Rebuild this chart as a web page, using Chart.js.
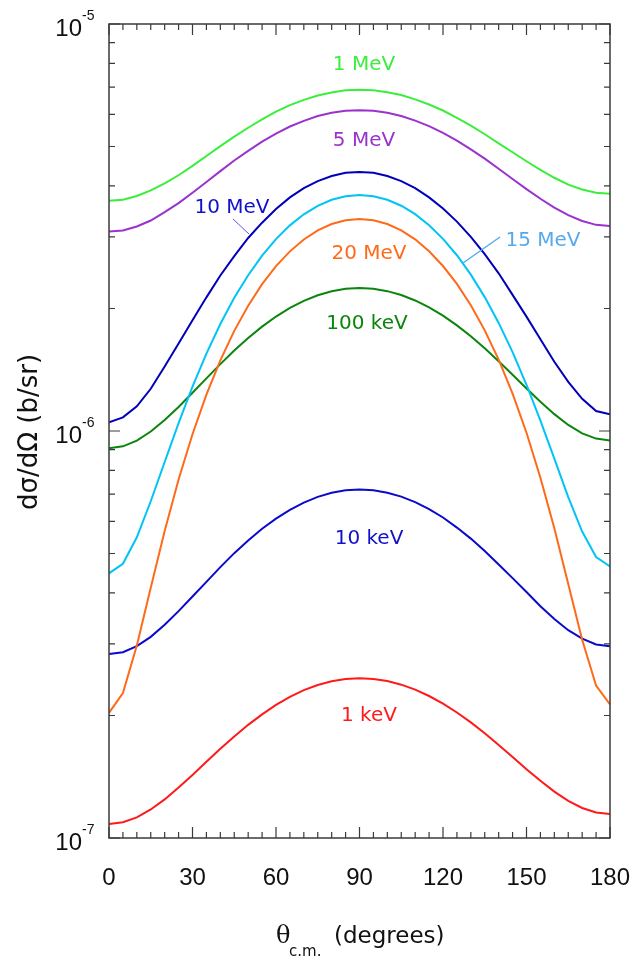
<!DOCTYPE html>
<html>
<head>
<meta charset="utf-8">
<script src="https://cdn.jsdelivr.net/npm/chart.js@4.4.1/dist/chart.umd.min.js"></script>
<style>
  html, body { margin: 0; padding: 0; background: #fff; }
  #wrap { width: 634px; height: 960px; }
</style>
</head>
<body>
<div id="wrap"><canvas id="xsec" width="634" height="960"></canvas></div>
<script>
/* ── data: dσ/dΩ in units of 1e-6 b/sr, sampled every 5° ── */
const angles = [0, 5, 10, 15, 20, 25, 30, 35, 40, 45, 50, 55, 60, 65, 70, 75, 80, 85, 90,
  95, 100, 105, 110, 115, 120, 125, 130, 135, 140, 145, 150, 155, 160, 165, 170, 175, 180];

const mev1 = [3.68, 3.70, 3.78, 3.90, 4.06, 4.25, 4.48, 4.74, 5.01, 5.29, 5.56, 5.83, 6.09, 6.32, 6.51, 6.67, 6.79, 6.87, 6.89,
  6.87, 6.80, 6.69, 6.53, 6.34, 6.13, 5.88, 5.63, 5.36, 5.09, 4.84, 4.60, 4.38, 4.19, 4.03, 3.92, 3.85, 3.83];
const mev5 = [3.09, 3.11, 3.18, 3.29, 3.45, 3.63, 3.85, 4.09, 4.35, 4.62, 4.88, 5.14, 5.38, 5.60, 5.78, 5.94, 6.05, 6.12, 6.14,
  6.12, 6.05, 5.94, 5.79, 5.61, 5.40, 5.17, 4.92, 4.67, 4.41, 4.16, 3.93, 3.72, 3.54, 3.39, 3.28, 3.21, 3.19];
const mev10 = [1.05, 1.08, 1.15, 1.27, 1.44, 1.64, 1.87, 2.13, 2.41, 2.69, 2.98, 3.25, 3.51, 3.75, 3.95, 4.11, 4.23, 4.31, 4.33,
  4.31, 4.23, 4.11, 3.95, 3.75, 3.52, 3.27, 3.00, 2.72, 2.44, 2.16, 1.91, 1.68, 1.48, 1.32, 1.20, 1.12, 1.10];
const mev15 = [0.447, 0.472, 0.548, 0.672, 0.839, 1.046, 1.285, 1.550, 1.832, 2.124, 2.414, 2.697, 2.962, 3.201, 3.408, 3.575, 3.699, 3.775, 3.800,
  3.775, 3.699, 3.577, 3.410, 3.204, 2.966, 2.703, 2.422, 2.133, 1.843, 1.562, 1.299, 1.061, 0.855, 0.688, 0.566, 0.490, 0.465];
const mev20 = [0.203, 0.227, 0.297, 0.412, 0.568, 0.760, 0.982, 1.228, 1.491, 1.762, 2.032, 2.295, 2.541, 2.763, 2.955, 3.111, 3.226, 3.296, 3.320,
  3.296, 3.226, 3.112, 2.957, 2.765, 2.543, 2.298, 2.036, 1.767, 1.497, 1.235, 0.990, 0.768, 0.577, 0.421, 0.307, 0.237, 0.213];
const kev100 = [0.907, 0.917, 0.947, 0.997, 1.064, 1.146, 1.242, 1.347, 1.460, 1.576, 1.692, 1.805, 1.911, 2.006, 2.088, 2.155, 2.205, 2.235, 2.245,
  2.235, 2.206, 2.158, 2.093, 2.013, 1.921, 1.818, 1.709, 1.597, 1.484, 1.375, 1.272, 1.180, 1.100, 1.035, 0.987, 0.958, 0.948];
const kev10 = [0.283, 0.286, 0.296, 0.312, 0.334, 0.361, 0.392, 0.426, 0.463, 0.501, 0.538, 0.575, 0.609, 0.640, 0.667, 0.689, 0.705, 0.715, 0.718,
  0.715, 0.705, 0.690, 0.669, 0.643, 0.613, 0.579, 0.544, 0.507, 0.470, 0.435, 0.402, 0.371, 0.345, 0.324, 0.309, 0.299, 0.296];
const kev1 = [0.1082, 0.1093, 0.1124, 0.1175, 0.1244, 0.1330, 0.1429, 0.1539, 0.1656, 0.1776, 0.1897, 0.2013, 0.2123, 0.2222, 0.2308, 0.2377, 0.2428, 0.2459, 0.2470,
  0.2460, 0.2430, 0.2381, 0.2315, 0.2233, 0.2139, 0.2034, 0.1923, 0.1808, 0.1692, 0.1581, 0.1476, 0.1382, 0.1300, 0.1234, 0.1185, 0.1155, 0.1145];

const xTickLabels = [0, 30, 60, 90, 120, 150, 180];
const yDecades = [-7, -6, -5];

/* ── series styling ── */
const series = [
  { name: '1 MeV',   vals: mev1,   color: '#3cee3c', text: '#3cee3c', lx: 364, ly: 65 },
  { name: '5 MeV',   vals: mev5,   color: '#9933cc', text: '#9933cc', lx: 364, ly: 141 },
  { name: '10 MeV',  vals: mev10,  color: '#0000bb', text: '#1111cc', lx: 232, ly: 208 },
  { name: '15 MeV',  vals: mev15,  color: '#00c4f5', text: '#55aaee', lx: 543, ly: 241 },
  { name: '20 MeV',  vals: mev20,  color: '#ff6a1a', text: '#ff6a1a', lx: 369, ly: 254 },
  { name: '100 keV', vals: kev100, color: '#0b850b', text: '#0b850b', lx: 367, ly: 324 },
  { name: '10 keV',  vals: kev10,  color: '#0a0acc', text: '#1111cc', lx: 369, ly: 539 },
  { name: '1 keV',   vals: kev1,   color: '#ff1a1a', text: '#ff1a1a', lx: 369, ly: 716 }
];

// leader lines from label to curve
const leaders = [
  { from: [233, 219], to: [249, 234], color: '#5a5ae0', width: 1 },
  { from: [500, 237], to: [463, 263], color: '#55aaee', width: 1.5 }
];

const datasets = series.map(s => ({
  label: s.name,
  data: angles.map((a, i) => ({ x: a, y: s.vals[i] * 1e-6 })),
  borderColor: s.color,
  borderWidth: 2,
  pointRadius: 0,
  tension: 0,
  fill: false
}));

/* ── frame, inward ticks and all texts ── */
const framePlugin = {
  id: 'frame',
  afterDraw(chart) {
    const ctx = chart.ctx;
    const area = chart.chartArea;
    const xs = chart.scales.x, ys = chart.scales.y;

    ctx.save();
    ctx.strokeStyle = '#3a3a3a';
    ctx.lineWidth = 1.5;
    ctx.strokeRect(area.left, area.top, area.right - area.left, area.bottom - area.top);

    ctx.lineWidth = 1.2;
    ctx.beginPath();
    for (let v = 0; v <= 180; v += 5) {
      const px = xs.getPixelForValue(v);
      const len = v % 30 === 0 ? 11 : 6;
      ctx.moveTo(px, area.bottom); ctx.lineTo(px, area.bottom - len);
      ctx.moveTo(px, area.top);    ctx.lineTo(px, area.top + len);
    }
    yDecades.forEach(d => {
      for (let m = 1; m <= 9; m++) {
        if (d === -5 && m > 1) break;
        const py = ys.getPixelForValue(m * Math.pow(10, d));
        const len = m === 1 ? 11 : 6;
        ctx.moveTo(area.left, py);  ctx.lineTo(area.left + len, py);
        ctx.moveTo(area.right, py); ctx.lineTo(area.right - len, py);
      }
    });
    ctx.stroke();

    // x tick labels
    ctx.fillStyle = '#111';
    ctx.font = '24px "Liberation Sans", Arial, sans-serif';
    ctx.textAlign = 'center';
    ctx.textBaseline = 'middle';
    xTickLabels.forEach(v => ctx.fillText(String(v), xs.getPixelForValue(v), 878));

    // y tick labels 10^n
    yDecades.forEach(d => {
      const py = ys.getPixelForValue(Math.pow(10, d));
      ctx.font = '24px "Liberation Sans", Arial, sans-serif';
      ctx.textAlign = 'right';
      ctx.textBaseline = 'middle';
      ctx.fillText('10', 82, py + 5);
      ctx.font = '14px "Liberation Sans", Arial, sans-serif';
      ctx.textAlign = 'left';
      ctx.fillText(String(d), 82, py - 8);
    });

    // axis titles
    ctx.font = '26px "DejaVu Sans", sans-serif';
    ctx.textAlign = 'center';
    ctx.textBaseline = 'middle';
    ctx.save();
    ctx.translate(30, 432);
    ctx.rotate(-Math.PI / 2);
    ctx.fillText('dσ/dΩ (b/sr)', 0, 0);
    ctx.restore();

    ctx.textAlign = 'left';
    ctx.font = '24px "DejaVu Serif", serif';
    ctx.fillText('θ', 276, 937);
    ctx.font = '15px "DejaVu Sans", sans-serif';
    ctx.fillText('c.m.', 289, 952);
    ctx.font = '23px "DejaVu Sans", sans-serif';
    ctx.fillText('(degrees)', 334, 937);

    // curve labels
    ctx.font = '20px "DejaVu Sans", sans-serif';
    ctx.textAlign = 'center';
    series.forEach(s => {
      ctx.fillStyle = s.text;
      ctx.fillText(s.name, s.lx, s.ly);
    });
    leaders.forEach(l => {
      ctx.strokeStyle = l.color;
      ctx.lineWidth = l.width;
      ctx.beginPath();
      ctx.moveTo(l.from[0], l.from[1]);
      ctx.lineTo(l.to[0], l.to[1]);
      ctx.stroke();
    });
    ctx.restore();
  }
};

new Chart(document.getElementById('xsec'), {
  type: 'line',
  data: { datasets },
  options: {
    responsive: false,
    animation: false,
    devicePixelRatio: 1,
    layout: { padding: { left: 109, right: 24, top: 24, bottom: 122 } },
    plugins: { legend: { display: false }, tooltip: { enabled: false } },
    scales: {
      x: { type: 'linear', min: 0, max: 180, display: false },
      y: { type: 'logarithmic', min: 1e-7, max: 1e-5, display: false }
    }
  },
  plugins: [framePlugin]
});
</script>
</body>
</html>
